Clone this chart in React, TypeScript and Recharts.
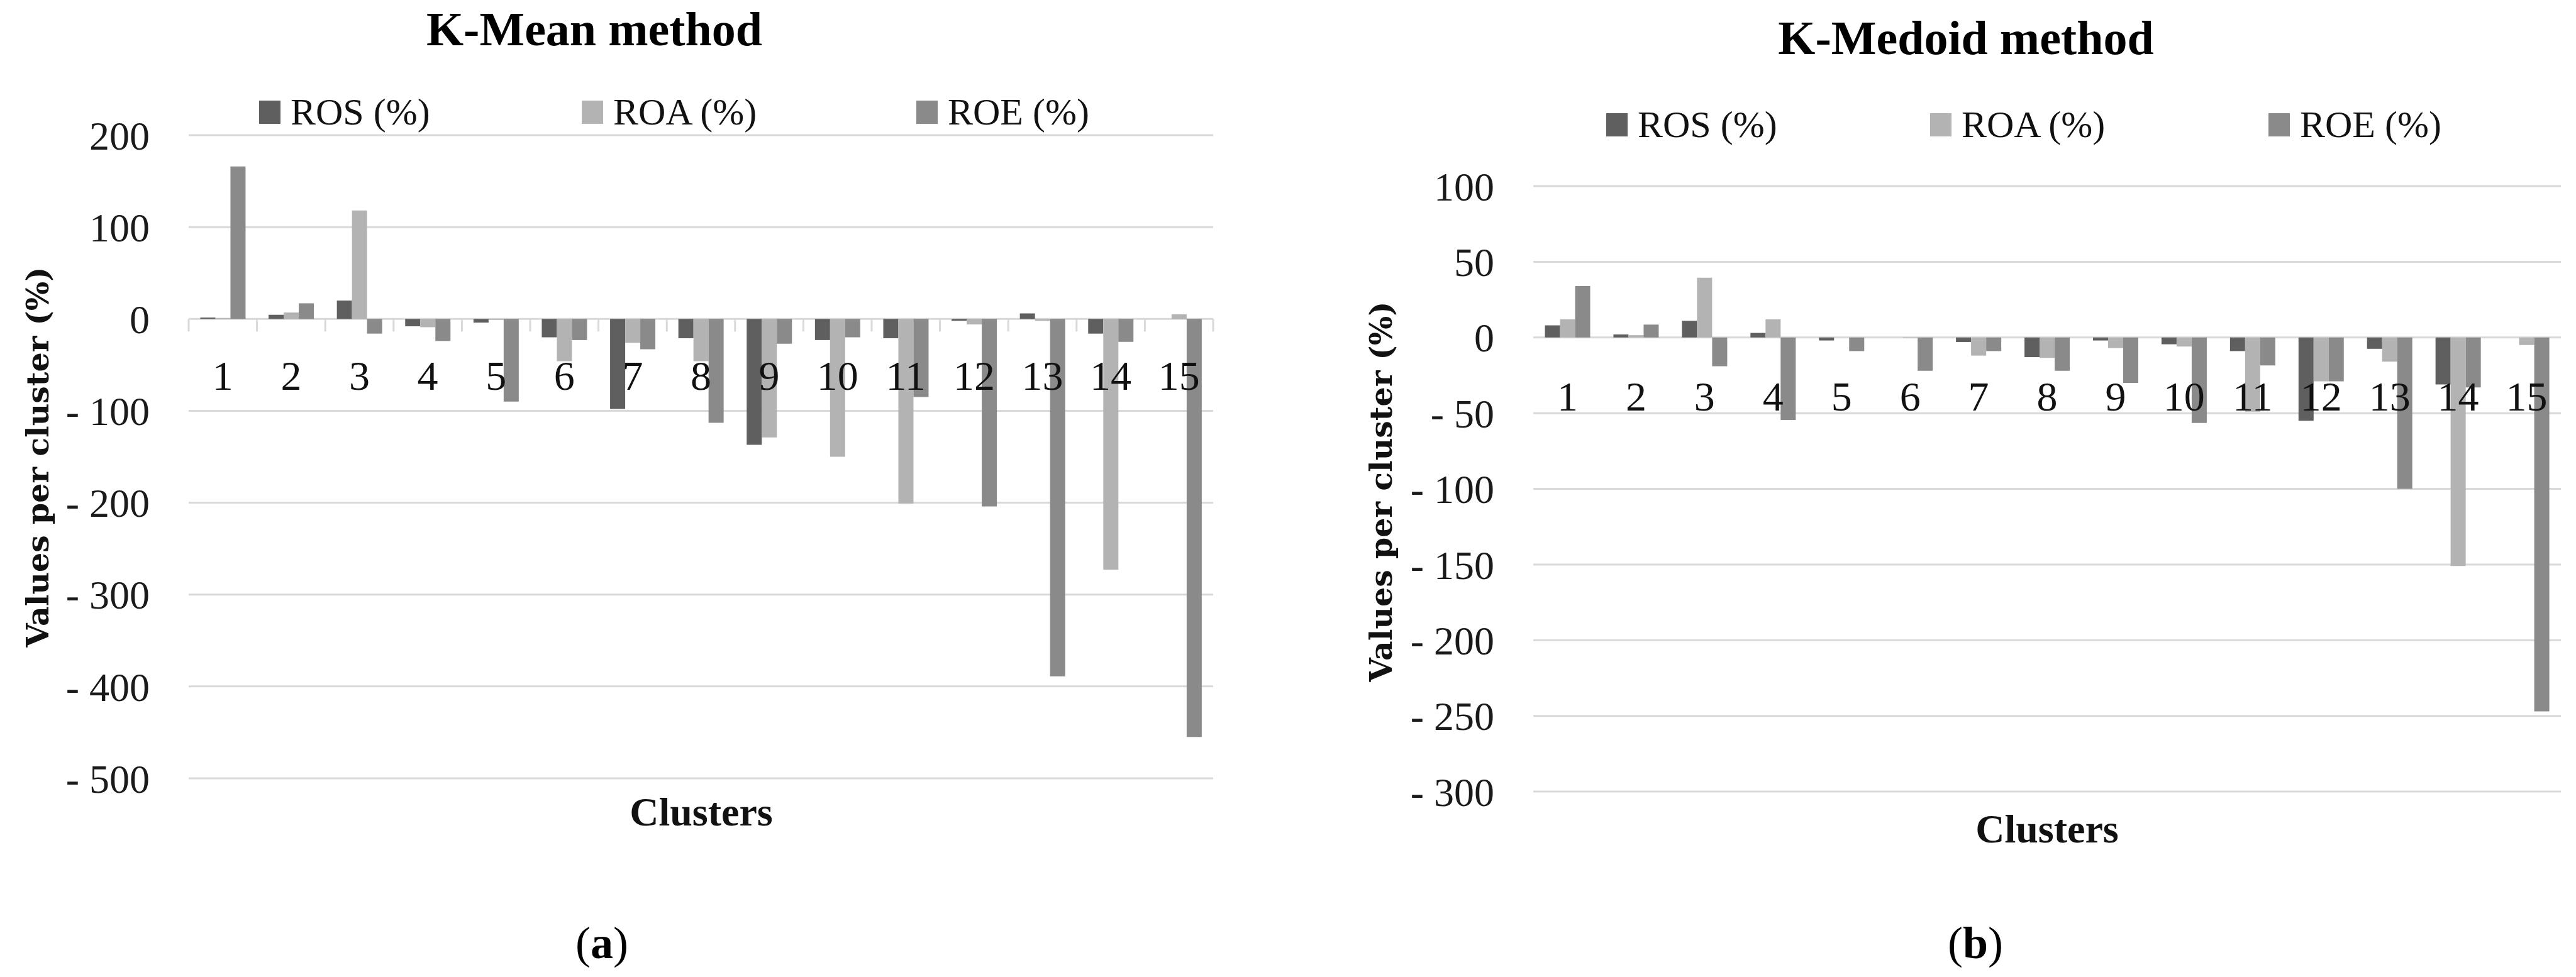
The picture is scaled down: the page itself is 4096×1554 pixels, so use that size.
import React from "react";
import { BarChart, Bar, XAxis, YAxis, CartesianGrid, Legend } from "recharts";

const clusters = ["1", "2", "3", "4", "5", "6", "7", "8", "9", "10", "11", "12", "13", "14", "15"];

// K-Mean method
const kMeanRos = [1.5, 4.5, 20, -8, -4, -20, -98, -21, -137, -23, -21, -2, 6, -16, 0];
const kMeanRoa = [1, 7, 118, -9, -1, -46, -26, -46, -129, -150, -201, -6, -2, -273, 5];
const kMeanRoe = [166, 17, -16, -24, -90, -23, -33, -113, -27, -20, -85, -204, -389, -25, -455];
const kMeanTicks = [200, 100, 0, -100, -200, -300, -400, -500];

// K-Medoid method
const kMedoidRos = [8, 2, 11, 3, -2, 0, -3, -13, -2, -4.5, -9, -55, -7.5, -31, 0];
const kMedoidRoa = [12, 1.5, 39.5, 12, 0, -0.5, -12, -13.5, -7, -6, -49, -29, -16, -151, -5];
const kMedoidRoe = [34, 8.5, -19, -54.5, -9, -22, -9, -22, -30, -56.5, -18.5, -29, -100, -33, -247];
const kMedoidTicks = [100, 50, 0, -50, -100, -150, -200, -250, -300];

const seriesKeys = ["ros", "roa", "roe"];
const seriesNames = ["ROS (%)", "ROA (%)", "ROE (%)"];
const seriesColors = ["#5f5f5f", "#b3b3b3", "#8a8a8a"];

const SERIF = "'Liberation Serif', 'Times New Roman', serif";
const W = 2048;
const H = 1554;

const toRows = (ros: number[], roa: number[], roe: number[]) =>
  clusters.map((c, i) => ({ cluster: c, ros: ros[i], roa: roa[i], roe: roe[i] }));

// excel style negatives: "- 100"
const fmt = (v: number) => (v < 0 ? `- ${Math.abs(v)}` : `${v}`);

const ClusterTick = (props: any) => {
  const { x, payload, index, labelY, zeroY, band, marks } = props;
  return (
    <g>
      <text x={x} y={labelY} textAnchor="middle" dominantBaseline="central" fill="#111" fontSize={66} fontFamily={SERIF}>
        {payload.value}
      </text>
      {marks && (
        <line x1={x - band / 2} x2={x - band / 2} y1={zeroY} y2={zeroY + 20} stroke="#d9d9d9" strokeWidth={3} />
      )}
      {marks && index === clusters.length - 1 && (
        <line x1={x + band / 2} x2={x + band / 2} y1={zeroY} y2={zeroY + 20} stroke="#d9d9d9" strokeWidth={3} />
      )}
    </g>
  );
};

const LegendBox = ({ payload, xs }: any) => {
  const items = [...(payload || [])].sort(
    (a: any, b: any) => seriesNames.indexOf(a.value) - seriesNames.indexOf(b.value)
  );
  return (
    <div style={{ position: "relative", width: W, height: 60 }}>
      {items.map((p: any, i: number) => (
        <div
          key={p.value}
          style={{ position: "absolute", left: xs[i], top: 0, height: 60, display: "flex", alignItems: "center", whiteSpace: "nowrap" }}
        >
          <span style={{ display: "inline-block", width: 34, height: 37, background: p.color, marginRight: 16 }} />
          <span style={{ fontFamily: SERIF, fontSize: 60, color: "#111", lineHeight: "60px" }}>{p.value}</span>
        </div>
      ))}
    </div>
  );
};

type PanelProps = {
  left: number;
  title: string;
  titleX: number;
  titleY: number;
  rows: any[];
  ticks: number[];
  margin: { top: number; right: number; bottom: number; left: number };
  legendXs: number[];
  legendY: number;
  labelGap: number;
  marks: boolean;
  yLabelX: number;
  yLabelY: number;
  clustersX: number;
  clustersY: number;
  caption: string;
  captionX: number;
};

const Panel = (p: PanelProps) => {
  const max = p.ticks[0];
  const min = p.ticks[p.ticks.length - 1];
  const plotH = H - p.margin.top - p.margin.bottom - 1;
  const plotW = W - p.margin.left - 170 - p.margin.right;
  const zeroY = p.margin.top + (plotH * max) / (max - min);
  const band = plotW / clusters.length;

  return (
    <div style={{ position: "absolute", left: p.left, top: 0, width: W, height: H }}>
      <BarChart width={W} height={H} data={p.rows} margin={p.margin} barCategoryGap="17%" barGap={0}>
        <CartesianGrid horizontal vertical={false} stroke="#d9d9d9" strokeWidth={3} />
        <XAxis
          dataKey="cluster"
          height={1}
          axisLine={false}
          tickLine={false}
          interval={0}
          tick={<ClusterTick labelY={zeroY + p.labelGap} zeroY={zeroY} band={band} marks={p.marks} />}
        />
        <YAxis
          width={170}
          domain={[min, max]}
          ticks={p.ticks}
          tickFormatter={fmt}
          axisLine={false}
          tickLine={false}
          tickSize={0}
          tickMargin={62}
          tick={{ fill: "#1a1a1a", fontSize: 64, fontFamily: SERIF }}
        />
        <Legend
          verticalAlign="middle"
          align="center"
          layout="horizontal"
          wrapperStyle={{ position: "absolute", left: 0, top: p.legendY - 30, width: W, height: 60 }}
          content={(lp: any) => <LegendBox payload={lp.payload} xs={p.legendXs} />}
        />
        {seriesKeys.map((k, i) => (
          <Bar key={k} dataKey={k} name={seriesNames[i]} fill={seriesColors[i]} isAnimationActive={false} />
        ))}
      </BarChart>
      <svg width={W} height={H} style={{ position: "absolute", left: 0, top: 0, pointerEvents: "none" }}>
        <text x={p.titleX} y={p.titleY} textAnchor="middle" fontFamily={SERIF} fontWeight="bold" fontSize={76} fill="#000">
          {p.title}
        </text>
        <text
          x={p.yLabelX}
          y={p.yLabelY}
          transform={`rotate(-90 ${p.yLabelX} ${p.yLabelY})`}
          textAnchor="middle"
          dominantBaseline="central"
          fontFamily="'DejaVu Serif', serif"
          fontWeight="bold"
          fontSize={49}
          fill="#111"
        >
          Values per cluster (%)
        </text>
        <text x={p.clustersX} y={p.clustersY} textAnchor="middle" fontFamily={SERIF} fontWeight="bold" fontSize={64} fill="#111">
          Clusters
        </text>
        <text x={p.captionX} y={1524} textAnchor="middle" fontFamily={SERIF} fontSize={72} fill="#000">
          (<tspan fontWeight="bold">{p.caption}</tspan>)
        </text>
      </svg>
    </div>
  );
};

export default function App() {
  return (
    <div style={{ position: "absolute", left: 0, top: 0, width: 4096, height: H, background: "#fff", overflow: "hidden" }}>
      <Panel
        left={0}
        title="K-Mean method"
        titleX={945}
        titleY={72}
        rows={toRows(kMeanRos, kMeanRoa, kMeanRoe)}
        ticks={kMeanTicks}
        margin={{ top: 215, right: 119, bottom: 315, left: 130 }}
        legendXs={[412, 925, 1457]}
        legendY={178}
        labelGap={90}
        marks
        yLabelX={60}
        yLabelY={727}
        clustersX={1115}
        clustersY={1313}
        caption="a"
        captionX={957}
      />
      <Panel
        left={2048}
        title="K-Medoid method"
        titleX={1078}
        titleY={86}
        rows={toRows(kMedoidRos, kMedoidRoa, kMedoidRoe)}
        ticks={kMedoidTicks}
        margin={{ top: 296, right: 24, bottom: 294, left: 220 }}
        legendXs={[506, 1021, 1559]}
        legendY={198}
        labelGap={94}
        marks={false}
        yLabelX={148}
        yLabelY={782}
        clustersX={1207}
        clustersY={1340}
        caption="b"
        captionX={1093}
      />
    </div>
  );
}
